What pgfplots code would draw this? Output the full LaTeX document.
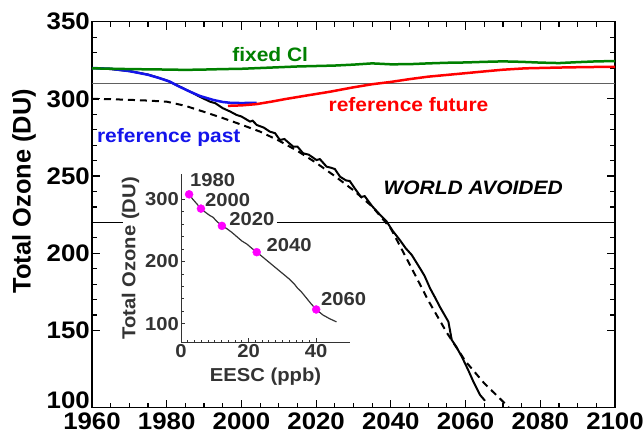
\documentclass[border=0pt]{standalone}
\usepackage{pgfplots}
\pgfplotsset{compat=1.18}
\usepackage{fontspec}
\setmainfont{Liberation Sans}
\newfontfamily\widefont{Liberation Sans}[FakeStretch=1.08]

\definecolor{fixgreen}{RGB}{0,128,0}
\definecolor{reffut}{RGB}{255,0,0}
\definecolor{refpast}{RGB}{20,20,235}
\definecolor{insetgray}{RGB}{51,51,51}
\definecolor{dot}{RGB}{255,0,255}

\begin{document}
\begin{tikzpicture}
\begin{axis}[name=main, at={(0,0)}, anchor=south west,
  scale only axis, width=523bp, height=386bp,
  xmin=1960, xmax=2100, ymin=100, ymax=350,
  xtick={1960,1980,...,2100}, ytick={150,200,...,350},
  extra y ticks={100},
  extra y tick style={yticklabel style={yshift=7.7bp}},
  minor x tick num=3, minor y tick num=4,
  tick align=inside, major tick length=8bp, minor tick length=5bp,
  every tick/.style={black, line width=1.2bp},
  axis line style={line width=1.5bp},
  ticklabel style={font={\widefont\fontsize{24}{24}\selectfont\bfseries}},
  xticklabel style={inner sep=0bp, yshift=-5bp},
  yticklabel style={inner sep=2bp},
  /pgf/number format/assume math mode=true,
  /pgf/number format/1000 sep={},
  ylabel={Total Ozone (DU)},
  ylabel style={font=\fontsize{25.5}{25.5}\selectfont\bfseries,
    at={(axis description cs:-0.130,0.561)}, anchor=center},
]
% reference lines
\addplot[gray!75!black, line width=1.3bp] coordinates {(1960,310) (2100,310)};
\addplot[black, line width=1bp] coordinates {(1960,220) (1968.3,220)};
\addplot[black, line width=1bp] coordinates {(2009.5,220) (2100,220)};
% world avoided, fit
\addplot[black, line width=2bp, dash pattern=on 7bp off 5bp] coordinates {
(1960,300) (1965,299.8) (1970,299.4) (1975,298.9) (1980,298.2) (1985,295.5)
(1990,291.6) (1995,287.6) (2000,283.3) (2005,278.8) (2010,273) (2015,266.3)
(2020,258.6) (2025,250) (2030,240.8) (2035,230.3) (2040,216) (2045,193)
(2050,169.5) (2055,148.5) (2060,130) (2065,115.8) (2070,104) (2072,99)};
% world avoided, model
\addplot[black, line width=2bp] coordinates {
(1960,320) (1965,319.3) (1970,318) (1975,315.8) (1980,312) (1983,308.5)
(1985,306.2) (1987,303.8) (1989,301.2) (1991.6,298.2) (1993,297.2) (1995,294)
(1997,291.8) (1998.7,289.6) (2000,288.6) (2002.3,285.3) (2003,285.9) (2004.1,283.1)
(2006,281.4) (2007.6,278.8) (2009,277.8) (2010.3,273.4) (2011.5,274) (2013.9,269)
(2015,269.1) (2016.5,264.8) (2018,263.9) (2020.1,260.4) (2021,261) (2022.8,256.1)
(2024,255.4) (2025,254.6) (2026.4,249.6) (2028,247.2) (2029,246.8) (2030.5,241.5)
(2032,236.5) (2033,237) (2035,230.5) (2037,225.2) (2038.9,220.5) (2040.5,214.5)
(2042.4,208.6) (2044,203.2) (2045.6,198.9) (2047.8,190.3) (2049,185.5) (2050.5,177.3)
(2052,170.6) (2053.1,165.4) (2055.4,155.7) (2056.3,143.9) (2057.5,139.5) (2059,133)
(2060.7,124.4) (2062.1,116.8) (2063.9,108.2) (2065.2,104.5)};
% reference past
\addplot[refpast, line width=2.5bp] coordinates {
(1960,320) (1965,319.5) (1970,318) (1975,315.6) (1978,313.5) (1980.9,311.1)
(1983,308.4) (1986.2,304.7) (1989,301.8) (1992.5,299.3) (1995,298) (1996.9,297.5)
(2000,297.3) (2004.1,297.5)};
% reference future
\addplot[reffut, line width=2.5bp] coordinates {
(1996.4,295.5) (2000,295.8) (2004,296.6) (2008,298.2) (2012,300) (2018,302.4)
(2023.6,304.6) (2030,307.5) (2035,309.5) (2040,311) (2045,312.8) (2050,314.4)
(2058,316.2) (2065,317.8) (2070,318.9) (2076,319.8) (2085,320.3) (2092,320.6)
(2100,320.8)};
% fixed Cl
\addplot[fixgreen, line width=2.5bp] coordinates {
(1960,319.8) (1970,319.3) (1980,319) (1985,318.8) (1990,319) (1995,319.3)
(2000,319.5) (2005,320) (2010,320.5) (2015,321) (2020,321.3) (2025,321.6)
(2030,322.2) (2035,323) (2040,322.4) (2045,322.5) (2050,323) (2055,323.4)
(2060,323.6) (2065,324) (2070,324.3) (2075,324) (2080,323.5) (2085,323.2)
(2090,323.8) (2095,324.3) (2100,324.5)};

\begin{scope}[every node/.style={anchor=base west, inner sep=0,
  font={\widefont\fontsize{19.5}{19.5}\selectfont\bfseries}}]
\node[text=fixgreen] at (axis cs:1997.5,324.1) {fixed Cl};
\node[text=reffut] at (axis cs:2023.3,291.7) {reference future};
\node[text=refpast] at (axis cs:1961.3,271.9) {reference past};
\node[font={\widefont\fontsize{19.5}{19.5}\selectfont\bfseries\itshape}]
  at (axis cs:2038,237.8) {WORLD AVOIDED};
\end{scope}
\end{axis}

\begin{axis}[at={(89bp,65.3bp)}, anchor=south west,
  scale only axis, width=169bp, height=168bp,
  xmin=0, xmax=50, ymin=70, ymax=340,
  clip=false,
  axis lines=left,
  axis line style={-, insetgray, line width=1bp},
  xtick={0,20,40}, ytick={100,200,300},
  minor x tick num=9, minor y tick num=4,
  tick align=inside, major tick length=4bp, minor tick length=2.5bp,
  every tick/.style={insetgray, line width=0.8bp},
  ticklabel style={font={\widefont\fontsize{18.8}{18.8}\selectfont\bfseries}, text=insetgray, inner sep=2bp},
  /pgf/number format/assume math mode=true,
  xlabel={EESC (ppb)}, ylabel={Total Ozone (DU)},
  label style={font={\widefont\fontsize{18.8}{18.8}\selectfont\bfseries}, text=insetgray},
  xlabel style={at={(axis description cs:0.5,-0.201)}, anchor=center},
  ylabel style={at={(axis description cs:-0.299,0.5)}, anchor=center},
]
\addplot[insetgray, line width=1.2bp] coordinates {
(2.0,312) (2.4,308) (3.5,300) (4.8,292) (5.9,285) (7,280) (8.5,274) (9.5,271)
(10.5,265) (12.1,257.3) (13.5,253) (15,247) (16.5,240) (18,233) (19.5,228)
(21,221) (22.4,215) (24,208) (26,199) (28,190) (30,181) (32,172) (33.5,164)
(34.5,157) (35.5,152) (37,142) (38.5,132) (40,122.9) (42,114) (44,108) (46,103)};
\addplot[only marks, mark=*, mark size=4bp, dot, mark options={draw=dot, fill=dot}] coordinates {
(2.4,308) (5.9,285) (12.1,257.3) (22.4,215) (40,122.9)};
\begin{scope}[every node/.style={anchor=south west, inner sep=0, text=insetgray,
  font={\widefont\fontsize{18.8}{18.8}\selectfont\bfseries}}]
\node[xshift=0.7bp, yshift=7.6bp] at (axis cs:2.4,308) {1980};
\node[xshift=4bp, yshift=2bp] at (axis cs:5.9,285) {2000};
\node[xshift=7.3bp, yshift=0.3bp] at (axis cs:12.1,257.3) {2020};
\node[xshift=9.7bp, yshift=0bp] at (axis cs:22.4,215) {2040};
\node[xshift=4.7bp, yshift=3.3bp] at (axis cs:40,122.9) {2060};
\end{scope}
\end{axis}

\pgfresetboundingbox
\path[use as bounding box] (-92bp,-29.3bp) rectangle (551bp,407.7bp);
\end{tikzpicture}
\end{document}
